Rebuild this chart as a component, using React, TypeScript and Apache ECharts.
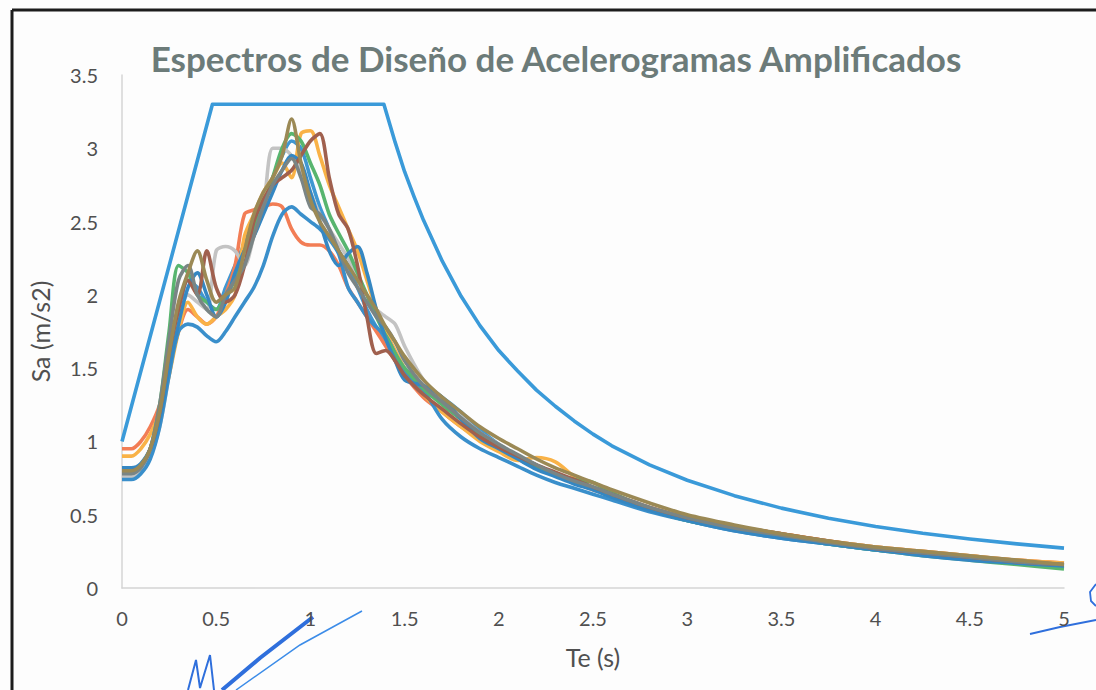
import React, { useEffect, useRef } from "react";
import * as echarts from "echarts";

const periods = [0, 0.05, 0.1, 0.15, 0.2, 0.25, 0.3, 0.35, 0.4, 0.45, 0.5, 0.55, 0.6, 0.65, 0.7, 0.75, 0.8, 0.85, 0.9, 0.95, 1.0, 1.05, 1.1, 1.15, 1.2, 1.25, 1.3, 1.35, 1.4, 1.45, 1.5, 1.6, 1.7, 1.8, 1.9, 2.0, 2.1, 2.2, 2.3, 2.4, 2.5, 2.6, 2.8, 3.0, 3.25, 3.5, 3.75, 4.0, 4.25, 4.5, 4.75, 5.0];

const designT = [0, 0.48, 1.39, 1.45, 1.5, 1.55, 1.6, 1.7, 1.8, 1.9, 2.0, 2.1, 2.2, 2.3, 2.4, 2.5, 2.6, 2.8, 3.0, 3.25, 3.5, 3.75, 4.0, 4.25, 4.5, 4.75, 5.0];
const designSa = [1.0, 3.3, 3.3, 3.04, 2.84, 2.67, 2.51, 2.23, 1.99, 1.79, 1.62, 1.48, 1.35, 1.24, 1.14, 1.05, 0.97, 0.84, 0.735, 0.63, 0.545, 0.476, 0.42, 0.373, 0.334, 0.301, 0.272];

const blueA = [0.78, 0.78, 0.82, 0.92, 1.15, 1.5, 1.85, 2.1, 2.05, 1.95, 1.9, 2.05, 2.2, 2.35, 2.5, 2.65, 2.8, 2.95, 3.05, 3.0, 2.8, 2.6, 2.45, 2.3, 2.2, 2.05, 1.9, 1.78, 1.68, 1.58, 1.5, 1.38, 1.3, 1.2, 1.08, 0.98, 0.9, 0.82, 0.77, 0.72, 0.68, 0.63, 0.54, 0.46, 0.4, 0.35, 0.3, 0.26, 0.23, 0.2, 0.18, 0.15];
const orangeRed = [0.95, 0.95, 1.0, 1.1, 1.25, 1.5, 1.75, 1.9, 1.85, 1.8, 1.85, 2.0, 2.2, 2.55, 2.58, 2.6, 2.62, 2.6, 2.45, 2.36, 2.34, 2.34, 2.3, 2.2, 2.05, 1.95, 1.85, 1.75, 1.65, 1.55, 1.45, 1.3, 1.2, 1.1, 1.02, 0.95, 0.88, 0.82, 0.77, 0.72, 0.67, 0.63, 0.55, 0.48, 0.42, 0.37, 0.32, 0.28, 0.25, 0.22, 0.19, 0.17];
const lightGray = [0.76, 0.76, 0.8, 0.9, 1.1, 1.45, 1.8, 2.0, 1.95, 1.9, 2.3, 2.33, 2.3, 2.2, 2.4, 2.6, 3.0, 3.0, 2.95, 2.85, 2.7, 2.55, 2.45, 2.35, 2.25, 2.12, 2.0, 1.9, 1.85, 1.8, 1.65, 1.42, 1.28, 1.17, 1.06, 0.98, 0.9, 0.84, 0.78, 0.73, 0.68, 0.64, 0.55, 0.48, 0.41, 0.36, 0.31, 0.27, 0.24, 0.21, 0.18, 0.16];
const yellow = [0.9, 0.9, 0.95, 1.05, 1.2, 1.45, 1.75, 1.95, 1.85, 1.8, 1.85, 1.9, 2.0, 2.4, 2.55, 2.7, 2.8, 2.9, 2.8, 3.1, 3.12, 2.95, 2.75, 2.6, 2.45, 2.3, 2.1, 1.9, 1.75, 1.62, 1.5, 1.32, 1.2, 1.1, 1.0, 0.93, 0.87, 0.89, 0.86, 0.76, 0.68, 0.62, 0.53, 0.47, 0.42, 0.37, 0.32, 0.28, 0.25, 0.22, 0.19, 0.17];
const blueB = [0.74, 0.74, 0.78, 0.88, 1.1, 1.45, 1.75, 1.8, 1.78, 1.72, 1.68, 1.75, 1.85, 1.95, 2.05, 2.2, 2.4, 2.55, 2.6, 2.55, 2.5, 2.45, 2.38, 2.28, 2.05, 1.95, 1.85, 1.78, 1.72, 1.6, 1.47, 1.35, 1.15, 1.03, 0.95, 0.89, 0.83, 0.77, 0.72, 0.68, 0.64, 0.6, 0.52, 0.46, 0.39, 0.34, 0.3, 0.26, 0.23, 0.2, 0.17, 0.14];
const green = [0.8, 0.8, 0.84, 0.95, 1.25, 1.75, 2.2, 2.15, 2.0, 1.95, 1.9, 2.0, 2.1, 2.3, 2.45, 2.6, 2.8, 3.0, 3.1, 3.05, 2.9, 2.75, 2.55, 2.42, 2.3, 2.15, 2.0, 1.85, 1.72, 1.6, 1.5, 1.36, 1.25, 1.15, 1.05, 0.97, 0.9, 0.83, 0.78, 0.74, 0.72, 0.65, 0.54, 0.46, 0.4, 0.35, 0.3, 0.26, 0.22, 0.19, 0.16, 0.13];
const blueC = [0.82, 0.82, 0.85, 0.95, 1.15, 1.5, 1.8, 2.05, 2.15, 2.0, 1.85, 1.95, 2.15, 2.3, 2.4, 2.55, 2.7, 2.85, 2.95, 2.9, 2.7, 2.5, 2.3, 2.2, 2.28, 2.33, 2.15, 1.9, 1.7, 1.55, 1.42, 1.38, 1.3, 1.15, 1.02, 0.95, 0.88, 0.81, 0.76, 0.71, 0.67, 0.62, 0.53, 0.46, 0.39, 0.34, 0.3, 0.26, 0.22, 0.19, 0.17, 0.15];
const brown = [0.8, 0.8, 0.83, 0.95, 1.2, 1.6, 1.9, 2.1, 2.0, 2.3, 2.05, 1.95, 2.0, 2.2, 2.5, 2.65, 2.75, 2.8, 2.85, 2.95, 3.05, 3.1, 2.8, 2.55, 2.45, 2.2, 1.85, 1.6, 1.62, 1.55, 1.45, 1.32, 1.22, 1.12, 1.03, 0.96, 0.9, 0.84, 0.79, 0.74, 0.69, 0.64, 0.55, 0.48, 0.42, 0.37, 0.32, 0.27, 0.24, 0.21, 0.18, 0.16];
const darkGray = [0.78, 0.78, 0.82, 0.95, 1.25, 1.7, 2.1, 2.2, 2.0, 1.9, 1.85, 2.0, 2.1, 2.2, 2.4, 2.6, 2.75, 2.85, 2.93, 2.8, 2.6, 2.55, 2.45, 2.3, 2.15, 2.05, 1.95, 1.85, 1.78, 1.68, 1.55, 1.38, 1.27, 1.16, 1.06, 0.98, 0.91, 0.84, 0.78, 0.73, 0.69, 0.64, 0.55, 0.48, 0.41, 0.36, 0.31, 0.27, 0.24, 0.21, 0.18, 0.16];
const olive = [0.8, 0.8, 0.84, 0.95, 1.2, 1.6, 1.95, 2.15, 2.3, 2.1, 1.95, 2.0, 2.05, 2.3, 2.55, 2.7, 2.8, 2.95, 3.2, 2.9, 2.65, 2.5, 2.4, 2.3, 2.2, 2.1, 2.0, 1.9, 1.78, 1.68, 1.58, 1.42, 1.3, 1.2, 1.1, 1.02, 0.95, 0.88, 0.82, 0.77, 0.72, 0.67, 0.58, 0.5, 0.43, 0.37, 0.32, 0.28, 0.25, 0.22, 0.19, 0.16];

const records = [
  { name: "Registro 1", values: blueA, color: "#3f97d2" },
  { name: "Registro 2", values: orangeRed, color: "#f27d55" },
  { name: "Registro 3", values: lightGray, color: "#c3c3c3" },
  { name: "Registro 4", values: yellow, color: "#f9b247" },
  { name: "Registro 5", values: blueB, color: "#3a8fcb" },
  { name: "Registro 6", values: green, color: "#58b56f" },
  { name: "Registro 7", values: blueC, color: "#3587c2" },
  { name: "Registro 8", values: brown, color: "#a0604e" },
  { name: "Registro 9", values: darkGray, color: "#7a8585" },
  { name: "Registro 10", values: olive, color: "#9b8955" },
];

const FONT = "Lato, 'Open Sans', sans-serif";

export default function App() {
  const ref = useRef<HTMLDivElement>(null);
  useEffect(() => {
    if (!ref.current) return;
    const chart = echarts.init(ref.current, undefined, { renderer: "svg" });
    const series: any[] = records.map((r) => ({
      name: r.name,
      type: "line",
      data: periods.map((t, i) => [t, r.values[i]]),
      smooth: 0.3,
      showSymbol: false,
      lineStyle: { color: r.color, width: 3.6 },
      itemStyle: { color: r.color },
    }));
    series.push({
      name: "Espectro de diseño",
      type: "line",
      data: designT.map((t, i) => [t, designSa[i]]),
      smooth: false,
      showSymbol: false,
      lineStyle: { color: "#3a9ad9", width: 3.6, join: "round" },
      itemStyle: { color: "#3a9ad9" },
    });
    const blue = "#2f6fdc";
    chart.setOption({
      animation: false,
      backgroundColor: "#fdfdfd",
      title: {
        text: "Espectros de Diseño de Acelerogramas Amplificados",
        left: 551,
        top: 35,
        textAlign: "center",
        textStyle: { fontFamily: FONT, fontSize: 35, fontWeight: "bold", color: "#6c7b79" },
      },
      grid: { left: 122, right: 32, top: 75, bottom: 102 },
      xAxis: {
        type: "value",
        min: 0,
        max: 5,
        interval: 0.5,
        name: "Te (s)",
        nameLocation: "middle",
        nameGap: 56,
        nameTextStyle: { fontFamily: FONT, fontSize: 25, color: "#505050" },
        axisLine: { show: true, lineStyle: { color: "#d4d4d4", width: 1.5 } },
        axisTick: { show: false },
        splitLine: { show: false },
        axisLabel: { fontFamily: FONT, fontSize: 20, color: "#505050", margin: 20 },
      },
      yAxis: {
        type: "value",
        min: 0,
        max: 3.5,
        interval: 0.5,
        name: "Sa (m/s2)",
        nameLocation: "middle",
        nameRotate: 90,
        nameGap: 70,
        nameTextStyle: { fontFamily: FONT, fontSize: 25, color: "#505050" },
        axisLine: { show: true, lineStyle: { color: "#d4d4d4", width: 1.5 } },
        axisTick: { show: false },
        splitLine: { show: false },
        axisLabel: { fontFamily: FONT, fontSize: 20, color: "#505050", margin: 24 },
      },
      graphic: [
        { type: "line", shape: { x1: 12, y1: 10, x2: 1096, y2: 10 }, style: { stroke: "#1c1c1c", lineWidth: 3 } },
        { type: "line", shape: { x1: 12, y1: 10, x2: 12, y2: 690 }, style: { stroke: "#1c1c1c", lineWidth: 3 } },
        { type: "polyline", shape: { points: [[222, 690], [260, 658], [313, 617]] }, style: { stroke: blue, lineWidth: 4, fill: null } },
        { type: "polyline", shape: { points: [[236, 690], [300, 645], [362, 611]] }, style: { stroke: "#3c8ce8", lineWidth: 1.5, fill: null } },
        { type: "polyline", shape: { points: [[188, 690], [196, 660], [200, 688], [210, 655], [214, 690]] }, style: { stroke: blue, lineWidth: 2, fill: null } },
        { type: "polyline", shape: { points: [[1030, 634], [1060, 627], [1096, 620]] }, style: { stroke: blue, lineWidth: 1.8, fill: null } },
        { type: "polyline", shape: { points: [[1096, 584], [1090, 592], [1091, 601], [1096, 606]] }, style: { stroke: blue, lineWidth: 1.8, fill: null } },
      ],
      series,
    });
    return () => chart.dispose();
  }, []);
  return <div ref={ref} style={{ position: "absolute", left: 0, top: 0, width: 1096, height: 690 }} />;
}
